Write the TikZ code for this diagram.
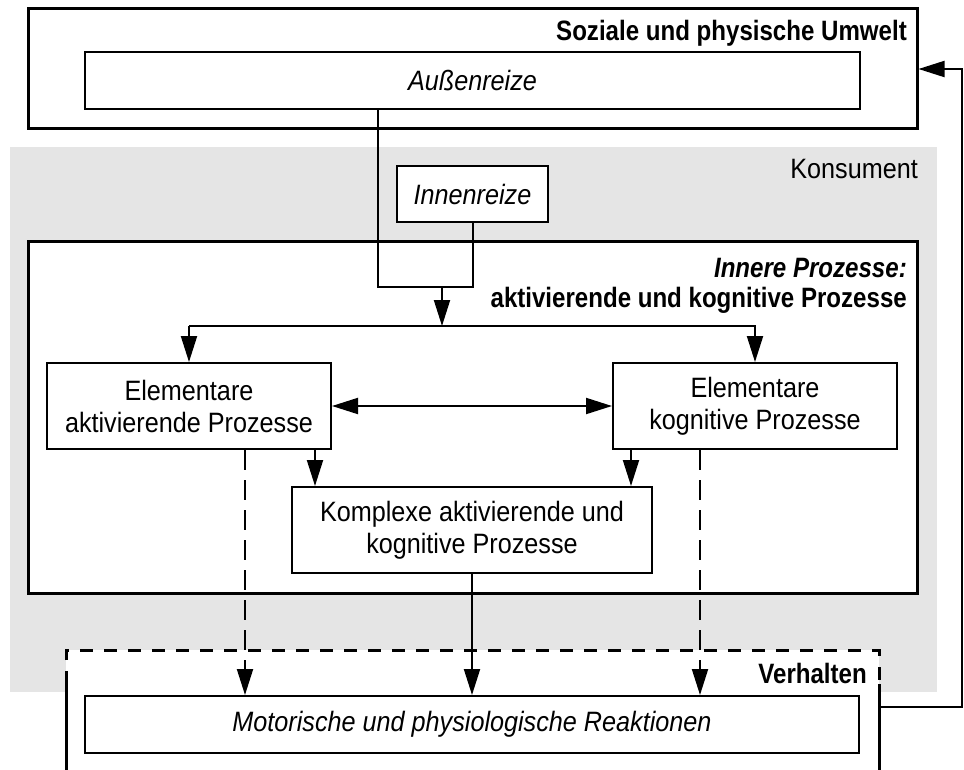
\documentclass[tikz,border=0pt]{standalone}
\usepackage{fontspec}
\setmainfont{Liberation Sans}[
  FakeStretch=0.9,
  BoldFeatures={FakeStretch=0.86},
  BoldItalicFeatures={FakeStretch=0.86}]
\usetikzlibrary{arrows.meta,calc}
\definecolor{konsgray}{RGB}{229,229,229}

\begin{document}
\begin{tikzpicture}[x=1pt,y=-1pt,
  font=\fontsize{28}{32}\selectfont,
  thickbox/.style={draw, line width=3pt, fill=white, inner sep=0pt},
  thinbox/.style={draw, line width=2pt, fill=white, inner sep=0pt, align=center},
  lbl/.style={inner sep=0pt},
  link/.style={line width=2pt},
  tip/.tip={Triangle[length=26pt,width=16pt]},
  arr/.style={link, -tip},
  dualarr/.style={link, tip-tip},
  dasharr/.style={arr, dash pattern=on 20pt off 10pt},
  dashedge/.style={line width=3pt, dash pattern=on 13pt off 11pt}]

\useasboundingbox (0,0) rectangle (964,769);
\clip (0,0) rectangle (964,769);
\fill[white] (0,0) rectangle (964,769);

% consumer area
\fill[konsgray] (10,147) rectangle (937,692);
\node[lbl, anchor=east] (konsument) at (918,169) {Konsument};

% environment
\node[thickbox, minimum width=889pt, minimum height=120pt] (umwelt) at (472.5,68) {};
\node[lbl, anchor=east] (umwelttitle) at (907,33) {\bfseries Soziale und physische Umwelt};
\node[thinbox, minimum width=775pt, minimum height=57pt] (aussen) at (472.5,80.5) {\itshape Außenreize};

% inner stimuli
\node[thinbox, minimum width=151pt, minimum height=56pt] (innen) at (472.5,194) {\itshape Innenreize};

% inner processes
\node[thickbox, minimum width=889pt, minimum height=352pt] (inner) at (472.5,417) {};
\node[lbl, anchor=east] (innertitle) at (907,268) {\bfseries\itshape Innere Prozesse:};
\node[lbl, anchor=east] (innersub) at (907,300) {\bfseries aktivierende und kognitive Prozesse};

\node[thinbox, minimum width=284pt, minimum height=86pt] (elakt) at (189,406) {Elementare\\aktivierende Prozesse};
\node[thinbox, minimum width=284pt, minimum height=86pt] (elkog) at (755,406) {Elementare\\kognitive Prozesse};
\node[thinbox, minimum width=360pt, minimum height=86pt] (komplex) at (472,530) {Komplexe aktivierende und\\kognitive Prozesse};

% behaviour
\fill[white] (66,650) rectangle (879,780);
\draw[dashedge] (66,684) -- (66,650) -- (879,650) -- (879,684);
\draw[line width=3pt] (66,684) -- (66,780);
\draw[line width=3pt] (879,684) -- (879,780);
\coordinate (verhaltenE) at (879,707);
\node[lbl, anchor=east] (verhaltentitle) at (867,673) {\bfseries Verhalten};
\node[thinbox, minimum width=774pt, minimum height=57pt] (reakt) at (472,724.5) {\itshape Motorische und physiologische Reaktionen};

% stimuli flow
\coordinate (joinL) at (378,287);
\coordinate (joinR) at (innen.south |- joinL);
\coordinate (joinM) at (442,287);
\coordinate (distY) at (442,326);
\draw[link] (aussen.south -| joinL) -- (joinL) -- (joinR) -- (innen.south);
\draw[arr] (joinM) -- (distY);
\draw[arr] (elakt.north |- distY) -- (elkog.north |- distY) -- (elkog.north);
\draw[arr] (elakt.north |- distY) -- (elakt.north);

% between the processes
\draw[dualarr] (elakt.east) -- (elkog.west);
\draw[arr] ([xshift=-17pt]elakt.south east) -- ([xshift=-17pt]elakt.south east |- komplex.north);
\draw[arr] ([xshift=19pt]elkog.south west) -- ([xshift=19pt]elkog.south west |- komplex.north);

% to behaviour
\draw[arr] (komplex.south) -- (komplex.south |- reakt.north);
\draw[dasharr] ([xshift=56pt]elakt.south) -- ([xshift=56pt]elakt.south |- reakt.north);
\draw[dasharr] ([xshift=-55pt]elkog.south) -- ([xshift=-55pt]elkog.south |- reakt.north);

% feedback to the environment
\draw[arr] (verhaltenE) -- (962,707) -- (962,69) -- (umwelt.east |- 0,69);
\end{tikzpicture}
\end{document}
